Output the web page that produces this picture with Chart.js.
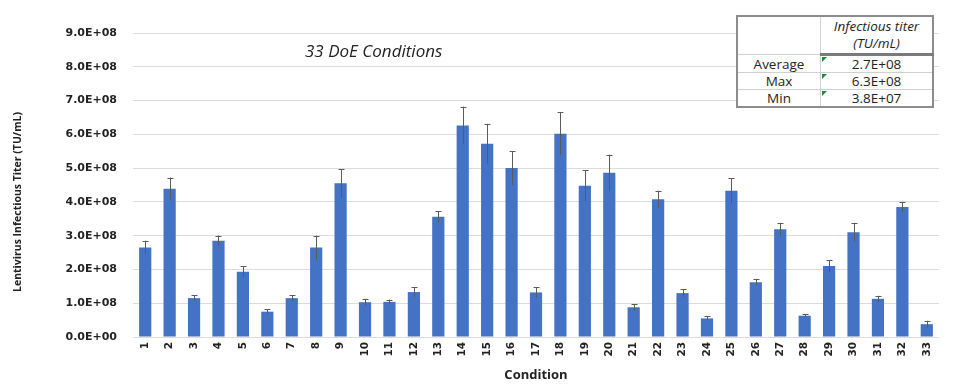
<!DOCTYPE html>
<html>
<head>
<meta charset="utf-8">
<script src="https://cdn.jsdelivr.net/npm/chart.js@4.4.1/dist/chart.umd.min.js"></script>
<style>
  html, body { margin: 0; padding: 0; background: #fff; }
  #wrap { position: relative; width: 960px; height: 385px; }
  #stats {
    position: absolute; left: 736px; top: 15px; width: 198px;
    border-collapse: collapse; border: 2px solid #8c8c8c;
    font-family: "Open Sans", sans-serif; font-size: 13.5px; color: #222;
    background: #fff;
  }
  #stats td { border: 1px solid #d0d0d0; text-align: center; padding: 0; height: 16px; line-height: 16px; }
  #stats td.lab { width: 82px; }
  #stats th { font-weight: normal; font-style: italic; line-height: 17px; height: 34px; border-bottom: 3px solid #7a7a7a; border-left: 1px solid #d0d0d0; }
  #stats th.blank { border-bottom: 1px solid #d0d0d0; border-left: none; }
  #stats td.val { position: relative; }
  #stats td.val::before {
    content: ""; position: absolute; left: 1px; top: 1px;
    border-top: 5px solid #1f8a2e; border-right: 5px solid transparent;
  }
</style>
</head>
<body>
<div id="wrap">
  <canvas id="titerChart" width="960" height="385"></canvas>
  <table id="stats">
    <tr><th class="blank"></th><th>Infectious titer<br>(TU/mL)</th></tr>
    <tr><td class="lab">Average</td><td class="val">2.7E+08</td></tr>
    <tr><td class="lab">Max</td><td class="val">6.3E+08</td></tr>
    <tr><td class="lab">Min</td><td class="val">3.8E+07</td></tr>
  </table>
</div>
<script>
const conditions = Array.from({ length: 33 }, (_, i) => String(i + 1));

// mean titer, TU/mL (x1e8)
const titerE8 = [2.65, 4.39, 1.15, 2.85, 1.93, 0.75, 1.15, 2.65, 4.55, 1.03,
                 1.04, 1.33, 3.56, 6.26, 5.72, 5.00, 1.32, 6.02, 4.48, 4.86,
                 0.88, 4.08, 1.30, 0.55, 4.33, 1.62, 3.19, 0.63, 2.10, 3.10,
                 1.13, 3.85, 0.38];
// error bar half-width (x1e8)
const errE8 = [0.20, 0.33, 0.08, 0.15, 0.16, 0.07, 0.08, 0.35, 0.42, 0.10,
               0.07, 0.14, 0.17, 0.56, 0.59, 0.50, 0.16, 0.63, 0.46, 0.54,
               0.10, 0.25, 0.11, 0.06, 0.37, 0.10, 0.19, 0.04, 0.18, 0.28,
               0.09, 0.15, 0.10];

const titer = titerE8.map(v => v * 1e8);
const err = errE8.map(v => v * 1e8);

function sci(v) {
  const [m, e] = Number(v).toExponential(1).split('e');
  const n = Math.abs(parseInt(e, 10));
  return m + 'E' + (e[0] === '-' ? '-' : '+') + String(n).padStart(2, '0');
}

const narrow = '"Liberation Sans Narrow", "Open Sans", sans-serif';

const errorBars = {
  id: 'errorBars',
  afterDatasetsDraw(chart) {
    const { ctx, scales: { y } } = chart;
    const meta = chart.getDatasetMeta(0);
    ctx.save();
    ctx.strokeStyle = '#5a5a5a';
    ctx.lineWidth = 1;
    meta.data.forEach((bar, i) => {
      const hi = y.getPixelForValue(titer[i] + err[i]);
      const lo = y.getPixelForValue(titer[i] - err[i]);
      const x = Math.round(bar.x) + 0.5;
      ctx.beginPath();
      ctx.moveTo(x, lo);
      ctx.lineTo(x, hi);
      ctx.moveTo(x - 3, Math.round(hi) + 0.5);
      ctx.lineTo(x + 3, Math.round(hi) + 0.5);
      ctx.stroke();
    });
    ctx.restore();
  }
};

// rotated x labels (read bottom to top), y-axis title and the caption
const extras = {
  id: 'extras',
  afterDraw(chart) {
    const { ctx, chartArea, scales: { x } } = chart;
    ctx.save();
    ctx.fillStyle = '#222';

    ctx.font = 'bold 10.5px "DejaVu Sans", sans-serif';
    ctx.textAlign = 'right';
    ctx.textBaseline = 'middle';
    conditions.forEach((c, i) => {
      ctx.setTransform(0, -1, 1, 0, x.getPixelForValue(i), chartArea.bottom + 5);
      ctx.fillText(c, 0, 0);
    });

    ctx.font = 'bold 10.5px ' + narrow;
    ctx.textAlign = 'center';
    ctx.setTransform(0, -1, 1, 0, 18, 202);
    ctx.fillText('Lentivirus Infectious Titer (TU/mL)', 0, 0);

    ctx.setTransform(1, 0, 0, 1, 0, 0);
    ctx.font = 'italic 17px "Open Sans", sans-serif';
    ctx.textAlign = 'left';
    ctx.fillText('33 DoE Conditions', 305, 52);
    ctx.restore();
  }
};

new Chart(document.getElementById('titerChart'), {
  type: 'bar',
  data: {
    labels: conditions,
    datasets: [{
      data: titer,
      backgroundColor: '#4472c4',
      barPercentage: 0.5,
      categoryPercentage: 1.0
    }]
  },
  options: {
    responsive: false,
    animation: false,
    layout: { padding: { top: 33, right: 21, bottom: 0, left: 0 } },
    plugins: { legend: { display: false }, tooltip: { enabled: false } },
    scales: {
      x: {
        grid: { display: false },
        border: { display: false },
        ticks: { display: false },
        title: {
          display: true, text: 'Condition', color: '#222',
          font: { family: narrow, size: 13, weight: 'bold' },
          padding: { top: 4, bottom: 2 }
        },
        afterFit(s) { s.height = 48; }
      },
      y: {
        min: 0, max: 9e8,
        grid: { color: '#dcdcdc', drawTicks: false },
        border: { display: false },
        ticks: {
          stepSize: 1e8, padding: 16, color: '#222',
          font: { family: 'DejaVu Sans', size: 11, weight: 'bold' },
          callback: v => sci(v)
        },
        afterFit(s) { s.width = 133; }
      }
    }
  },
  plugins: [errorBars, extras]
});
</script>
</body>
</html>
